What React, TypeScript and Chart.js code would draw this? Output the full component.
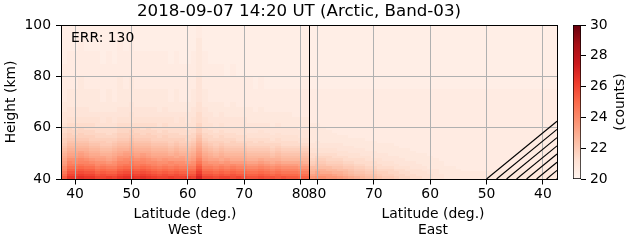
import React, { useEffect, useRef } from "react";
import { Chart, registerables } from "chart.js";

Chart.register(...registerables);

// ---------- text ----------
const chartTitle = "2018-09-07 14:20 UT (Arctic, Band-03)";
const errText = "ERR: 130";
const xTitleWest = ["Latitude (deg.)", "West"];
const xTitleEast = ["Latitude (deg.)", "East"];
const yTitle = "Height (km)";
const colorbarTitle = "(counts)";

// ---------- axes ----------
const latRange = [37.5, 81.5];
const heightRange = [40, 100];
const westTicks = [40, 50, 60, 70, 80];
const eastTicks = [80, 70, 60, 50, 40];
const heightTicks = [40, 60, 80, 100];
const colorTicks = [20, 22, 24, 26, 28, 30];
const colorRange = [20, 30];

// ---------- grid of bins ----------
const latEdges = [
  37.5, 38.5, 39.5, 40.5, 41.5, 42.5, 43.5, 44.5, 45.5, 46.5, 47.5, 48.5, 49.5, 50.5, 51.5,
  52.5, 53.5, 54.5, 55.5, 56.5, 57.5, 58.5, 59.5, 60.5, 61.5, 62.5, 63.5, 64.5, 65.5, 66.5,
  67.5, 68.5, 69.5, 70.5, 71.5, 72.5, 73.5, 74.5, 75.5, 76.5, 77.5, 78.5, 79.5, 80.5, 81.5,
];
const heightEdges = [
  40, 41, 42, 43, 44, 45, 46, 47, 48, 49, 50, 51, 52, 53, 54, 55, 56, 57, 58, 59, 60,
  62, 64, 66, 68, 70, 75, 80, 85, 90, 95, 100,
];

// each character is a count level: value = 20 + index * 0.2
const levelCodes = "0123456789abcdefghijklmnopqrstuvwxyz";
const levelBase = 20;
const levelStep = 0.2;

// West half, columns from lat 37.5 (left) to 81.5, grouped
// (38 | 39-43 | 44-47 | 48-53 | 54-60 | 61 | 62-63 | 64-70 | 71-78 | 79-81);
// rows from 40 km upward
const westRows = [
  ["r", "wwxww", "uuvu", "wxxwxw", "vuuvuuv", "u", "zu", "utuutut", "sstssrsr", "rqq"],
  ["p", "uuvuu", "stss", "uvvuvu", "tststss", "s", "xs", "srsrsrr", "qqrqpqpp", "poo"],
  ["n", "sstss", "qrqq", "sttsts", "rqrqrqq", "q", "vq", "qpqpqpp", "oopononn", "nmm"],
  ["l", "qqrqq", "opoo", "qrrqrq", "popopoo", "o", "to", "onononn", "mmnmlmll", "lkk"],
  ["k", "oopoo", "mnmm", "oppopo", "nmnmnmm", "m", "rm", "mlmlmll", "kklkjkjj", "jii"],
  ["i", "mmnmm", "klkk", "mnnmnm", "lklklkk", "k", "pk", "kjkjkjj", "iijihihh", "hgg"],
  ["h", "lkllk", "jjij", "llmllk", "kjjkjji", "j", "nj", "iihihhh", "gghgfgff", "ffe"],
  ["g", "jjkji", "hhgh", "jkkjkj", "ihihhhg", "h", "lh", "ggfgfff", "eefeeedd", "ddd"],
  ["f", "hhihg", "ggfg", "iijhih", "ggggfgf", "g", "jg", "fefeeee", "ddddcdcc", "ccc"],
  ["e", "gghgf", "feef", "ghhghg", "fffefee", "f", "if", "ededddd", "ccccbcbb", "bbb"],
  ["d", "ffgfe", "edde", "fggfff", "eeededd", "e", "he", "dcdcccc", "bbbbabaa", "aaa"],
  ["c", "eeeed", "dccd", "eefeee", "dddcdcc", "d", "gd", "cbcbbbb", "aaaa9a99", "999"],
  ["b", "ddddc", "cbbc", "ddeddd", "cccbcbb", "c", "fc", "babaaaa", "99998988", "888"],
  ["a", "ccccb", "baab", "ccdccc", "bbbabaa", "b", "eb", "a9a9999", "88888877", "777"],
  ["9", "bbbba", "aa9a", "bbcbbb", "aaa9a99", "a", "da", "9998988", "87877777", "766"],
  ["9", "aaaa9", "9999", "aabaaa", "9999998", "9", "c9", "8888877", "77776766", "666"],
  ["8", "99999", "8888", "99a999", "9898888", "8", "b8", "8787777", "66666666", "655"],
  ["8", "98988", "8878", "999989", "8888877", "8", "a8", "7777766", "66665655", "555"],
  ["7", "88888", "7777", "889888", "8787777", "7", "97", "7676666", "55655555", "555"],
  ["7", "87877", "7777", "888878", "7777776", "7", "97", "6666666", "55555555", "544"],
  ["6", "77777", "6666", "777777", "7676666", "6", "86", "6565555", "55554544", "444"],
  ["5", "66666", "6565", "666666", "6666565", "6", "76", "5555555", "44444444", "444"],
  ["5", "55555", "5555", "556555", "5555555", "5", "75", "5454444", "44444444", "333"],
  ["4", "55554", "4444", "555555", "5454444", "5", "65", "4444444", "43433333", "333"],
  ["4", "44444", "4444", "445444", "4444444", "4", "64", "4443433", "33333333", "333"],
  ["3", "44444", "4343", "444444", "4443433", "4", "54", "3333333", "33333333", "333"],
  ["3", "33433", "3333", "434333", "3333333", "3", "53", "3333333", "32322222", "222"],
  ["3", "33333", "3333", "333333", "3333333", "3", "43", "3332322", "22222222", "222"],
  ["2", "33333", "3232", "333333", "3332322", "3", "43", "2222222", "22222222", "222"],
  ["2", "22322", "2222", "323222", "2222222", "2", "42", "2222222", "22222222", "222"],
  ["2", "22222", "2222", "222222", "2222222", "2", "32", "2222222", "22222222", "222"],
];

// East half, columns from lat 81.5 (left) down to 37.5; rows from 40 km upward
const eastRows = [
  "ijjiihgfedccbaa98877665544444444444444444444",
  "ghhhgfedccbba9988776665544444444444444444444",
  "egffeedcbbaa99887766655444444444444444444444",
  "deeddccbaa9988877666555444433333333333333333",
  "ccccbbaa998877766655544444333333333333333333",
  "abbaaa99887776665555444433333333333333333333",
  "9aa99988777766655554444433333333333333333333",
  "89988877776665555444444333333333333333333333",
  "78887776666555554444443333333333333333333333",
  "77777666655555444444433333333333333333333333",
  "66666665555544444443333333333333333333333333",
  "66666555554444444433333333333333333333333333",
  "55555555444444443333333333333333333333333333",
  "55555544444444433333333333333333333333333333",
  "45444444444433333333333333333333333333333333",
  "44444444443333333333333333333333333333333333",
  "44444443333333333333333333333333333333333333",
  "44444333333333333333333333333333333333333333",
  "44443333333333333333333333333333333333333333",
  "44433333333333333333333333333333333333333333",
  "44333333333333333333333333333333333333333333",
  "33333333333333333333333333333333333333333333",
  "33333333333333333333333333333333333333333333",
  "33333333333333333333333333333333333333333333",
  "33333333333333333333333333333333333333333333",
  "33333333333333333333333333333333333333333333",
  "22222222222222222222222222222222222222222222",
  "22222222222222222222222222222222222222222222",
  "22222222222222222222222222222222222222222222",
  "22222222222222222222222222222222222222222222",
  "22222222222222222222222222222222222222222222",
];

// hatched (masked) region on the East side
const hatchLat = [50, 37.5, 37.5];
const hatchHeight = [40, 40, 62.5];

// matplotlib "Reds" colormap
const redsStops = [
  [255, 245, 240],
  [254, 224, 210],
  [252, 187, 161],
  [252, 146, 114],
  [251, 106, 74],
  [239, 59, 44],
  [203, 24, 29],
  [165, 15, 21],
  [103, 0, 13],
];

const FONT_FAMILY = "'DejaVu Sans', 'Liberation Sans', sans-serif";
const LABEL_SIZE = 13.9;
const TITLE_SIZE = 16.67;
const GRID_COLOR = "#b0b0b0";
const TICK_LEN = 5;

function redsColor(v: number): string {
  let t = (v - colorRange[0]) / (colorRange[1] - colorRange[0]);
  t = Math.max(0, Math.min(1, t));
  const p = t * (redsStops.length - 1);
  const i = Math.min(redsStops.length - 2, Math.floor(p));
  const f = p - i;
  const a = redsStops[i];
  const b = redsStops[i + 1];
  const c = a.map((x, j) => Math.round(x + (b[j] - x) * f));
  return `rgb(${c[0]},${c[1]},${c[2]})`;
}

function levelValue(ch: string): number {
  const idx = levelCodes.indexOf(ch);
  return levelBase + (idx < 0 ? 0 : idx) * levelStep;
}

const crisp = (p: number) => Math.round(p - 0.5) + 0.5;

function line(ctx: CanvasRenderingContext2D, x1: number, y1: number, x2: number, y2: number) {
  ctx.beginPath();
  ctx.moveTo(x1, y1);
  ctx.lineTo(x2, y2);
  ctx.stroke();
}

const heatmapPlugin = {
  id: "heatmap",
  beforeDatasetsDraw(chart: any) {
    const { ctx, chartArea: a } = chart;
    const xw = chart.scales.xw;
    const xe = chart.scales.xe;
    const y = chart.scales.y;
    const n = latEdges.length - 1;
    ctx.save();
    // cells
    for (let r = 0; r < heightEdges.length - 1; r++) {
      const yTop = Math.round(y.getPixelForValue(heightEdges[r + 1]));
      const yBot = Math.round(y.getPixelForValue(heightEdges[r]));
      const wRow = (westRows[r] || []).join("");
      const eRow = eastRows[r] || "";
      for (let k = 0; k < n; k++) {
        if (k < wRow.length) {
          const x0 = Math.round(xw.getPixelForValue(latEdges[k]));
          const x1 = Math.round(xw.getPixelForValue(latEdges[k + 1]));
          ctx.fillStyle = redsColor(levelValue(wRow[k]));
          ctx.fillRect(x0, yTop, x1 - x0, yBot - yTop);
        }
        if (k < eRow.length) {
          const e0 = Math.round(xe.getPixelForValue(latEdges[n - k]));
          const e1 = Math.round(xe.getPixelForValue(latEdges[n - k - 1]));
          ctx.fillStyle = redsColor(levelValue(eRow[k]));
          ctx.fillRect(e0, yTop, e1 - e0, yBot - yTop);
        }
      }
    }
    // grid lines and tick marks, from the scales' own ticks
    ctx.lineWidth = 1;
    for (const s of [xw, xe]) {
      for (const t of s.ticks) {
        const px = crisp(s.getPixelForValue(t.value));
        ctx.strokeStyle = GRID_COLOR;
        line(ctx, px, a.top, px, a.bottom);
        ctx.strokeStyle = "#000000";
        line(ctx, px, a.bottom, px, a.bottom + TICK_LEN + 0.5);
      }
    }
    for (const t of y.ticks) {
      const py = crisp(y.getPixelForValue(t.value));
      ctx.strokeStyle = GRID_COLOR;
      line(ctx, a.left, py, a.right, py);
      ctx.strokeStyle = "#000000";
      line(ctx, a.left - TICK_LEN, py, a.left, py);
    }
    ctx.restore();
  },
  afterDraw(chart: any) {
    const { ctx, chartArea: a } = chart;
    const xe = chart.scales.xe;
    const y = chart.scales.y;
    ctx.save();
    // hatch lines parallel to the region's sloping edge
    const pts = hatchLat.map((lat, i) => ({
      x: xe.getPixelForValue(lat),
      y: y.getPixelForValue(hatchHeight[i]),
    }));
    const dx = pts[2].x - pts[0].x;
    const dy = pts[2].y - pts[0].y;
    const xr = pts[1].x;
    ctx.strokeStyle = "#000000";
    ctx.lineWidth = 1.1;
    for (let s = 0; pts[0].x + s < xr; s += 10) {
      const sx = pts[0].x + s;
      const t = (xr - sx) / dx;
      line(ctx, sx, pts[0].y, xr, pts[0].y + dy * t);
    }
    // frame and West/East separator
    const l = Math.round(a.left);
    const r = Math.round(a.right);
    const tp = Math.round(a.top);
    const b = Math.round(a.bottom);
    ctx.lineWidth = 1;
    ctx.strokeStyle = "#000000";
    ctx.strokeRect(l + 0.5, tp + 0.5, r - l, b - tp);
    const sx = Math.round(chart.scales.xw.right) + 0.5;
    line(ctx, sx, tp, sx, b + 1);
    // annotation text and title
    ctx.fillStyle = "#000000";
    ctx.font = `${LABEL_SIZE}px ${FONT_FAMILY}`;
    ctx.textAlign = "left";
    ctx.textBaseline = "middle";
    ctx.fillText(errText, a.left + 10, a.top + 13);
    ctx.font = `${TITLE_SIZE}px ${FONT_FAMILY}`;
    ctx.textAlign = "center";
    ctx.fillText(chartTitle, (a.left + a.right) / 2 - 10, 12);
    ctx.restore();
  },
};

const colorbarPlugin = {
  id: "colorbarDecor",
  afterDraw(chart: any) {
    const { ctx, chartArea: a } = chart;
    const yS = chart.scales.y;
    ctx.save();
    ctx.strokeStyle = "#000000";
    ctx.lineWidth = 1;
    const r = Math.round(a.right);
    for (const t of yS.ticks) {
      const py = crisp(yS.getPixelForValue(t.value));
      line(ctx, r, py, r + TICK_LEN, py);
    }
    ctx.fillStyle = "#000000";
    ctx.font = `${LABEL_SIZE}px ${FONT_FAMILY}`;
    ctx.textAlign = "center";
    ctx.textBaseline = "middle";
    ctx.translate(60, (a.top + a.bottom) / 2);
    ctx.rotate(-Math.PI / 2);
    ctx.fillText(colorbarTitle, 0, 0);
    ctx.restore();
  },
};

const labelFont = { family: FONT_FAMILY, size: LABEL_SIZE };
const hiddenGrid = { display: false, drawTicks: false, tickLength: 0 };

function latAxis(ticks: number[], title: string[], reverse: boolean) {
  return {
    type: "linear" as const,
    position: "bottom" as const,
    stack: "lat",
    stackWeight: 1,
    reverse,
    min: latRange[0],
    max: latRange[1],
    afterBuildTicks: (s: any) => {
      s.ticks = ticks.map((v) => ({ value: v }));
    },
    afterFit: (s: any) => {
      s.height = 64;
    },
    ticks: {
      font: labelFont,
      color: "#000000",
      padding: 7,
      maxRotation: 0,
      autoSkip: false,
    },
    grid: hiddenGrid,
    border: { display: false },
    title: {
      display: true,
      text: title,
      font: labelFont,
      color: "#000000",
      padding: { top: 0, bottom: 4 },
    },
  };
}

export default function App() {
  const mainRef = useRef<HTMLCanvasElement>(null);
  const cbRef = useRef<HTMLCanvasElement>(null);

  useEffect(() => {
    const main = new Chart(mainRef.current as HTMLCanvasElement, {
      type: "scatter",
      data: { datasets: [] },
      options: {
        responsive: false,
        animation: false,
        devicePixelRatio: 1,
        layout: { padding: { left: 0, top: 25, right: 74, bottom: 0 } },
        plugins: {
          legend: { display: false },
          tooltip: { enabled: false },
          title: { display: false },
        },
        scales: {
          xw: latAxis(westTicks, xTitleWest, false),
          xe: latAxis(eastTicks, xTitleEast, true),
          y: {
            type: "linear",
            position: "left",
            min: heightRange[0],
            max: heightRange[1],
            afterBuildTicks: (s: any) => {
              s.ticks = heightTicks.map((v) => ({ value: v }));
            },
            afterFit: (s: any) => {
              s.width = 61;
            },
            ticks: { font: labelFont, color: "#000000", padding: 10 },
            grid: hiddenGrid,
            border: { display: false },
            title: {
              display: true,
              text: yTitle,
              font: labelFont,
              color: "#000000",
              padding: { top: 3, bottom: 0 },
            },
          },
        },
      } as any,
      plugins: [heatmapPlugin],
    });

    const cb = new Chart(cbRef.current as HTMLCanvasElement, {
      type: "bar",
      data: {
        labels: [""],
        datasets: [
          {
            data: [[colorRange[0], colorRange[1]]] as any,
            backgroundColor: (c: any) => {
              const chart = c.chart;
              const yS = chart.scales && chart.scales.y;
              if (!chart.chartArea || !yS) return "#ffffff";
              const y0 = yS.getPixelForValue(colorRange[0]);
              const y1 = yS.getPixelForValue(colorRange[1]);
              const g = chart.ctx.createLinearGradient(0, y0, 0, y1);
              redsStops.forEach((s, i) =>
                g.addColorStop(i / (redsStops.length - 1), `rgb(${s[0]},${s[1]},${s[2]})`)
              );
              return g;
            },
            borderColor: "#000000",
            borderWidth: 1,
            borderSkipped: false,
            barPercentage: 1,
            categoryPercentage: 1,
          },
        ],
      },
      options: {
        responsive: false,
        animation: false,
        devicePixelRatio: 1,
        layout: { padding: { left: 13, top: 25, right: 0, bottom: 64 } },
        plugins: {
          legend: { display: false },
          tooltip: { enabled: false },
          title: { display: false },
        },
        scales: {
          x: { display: false },
          y: {
            type: "linear",
            position: "right",
            min: colorRange[0],
            max: colorRange[1],
            afterBuildTicks: (s: any) => {
              s.ticks = colorTicks.map((v) => ({ value: v }));
            },
            afterFit: (s: any) => {
              s.width = 50;
            },
            ticks: { font: labelFont, color: "#000000", padding: 9 },
            grid: hiddenGrid,
            border: { display: false },
          },
        },
      } as any,
      plugins: [colorbarPlugin],
    });

    return () => {
      main.destroy();
      cb.destroy();
    };
  }, []);

  return (
    <div
      style={{
        position: "absolute",
        left: 0,
        top: 0,
        width: 631,
        height: 243,
        background: "#ffffff",
        overflow: "hidden",
      }}
    >
      <canvas
        ref={mainRef}
        width={631}
        height={243}
        style={{ position: "absolute", left: 0, top: 0, width: 631, height: 243 }}
      />
      <canvas
        ref={cbRef}
        width={71}
        height={243}
        style={{ position: "absolute", left: 560, top: 0, width: 71, height: 243 }}
      />
    </div>
  );
}
